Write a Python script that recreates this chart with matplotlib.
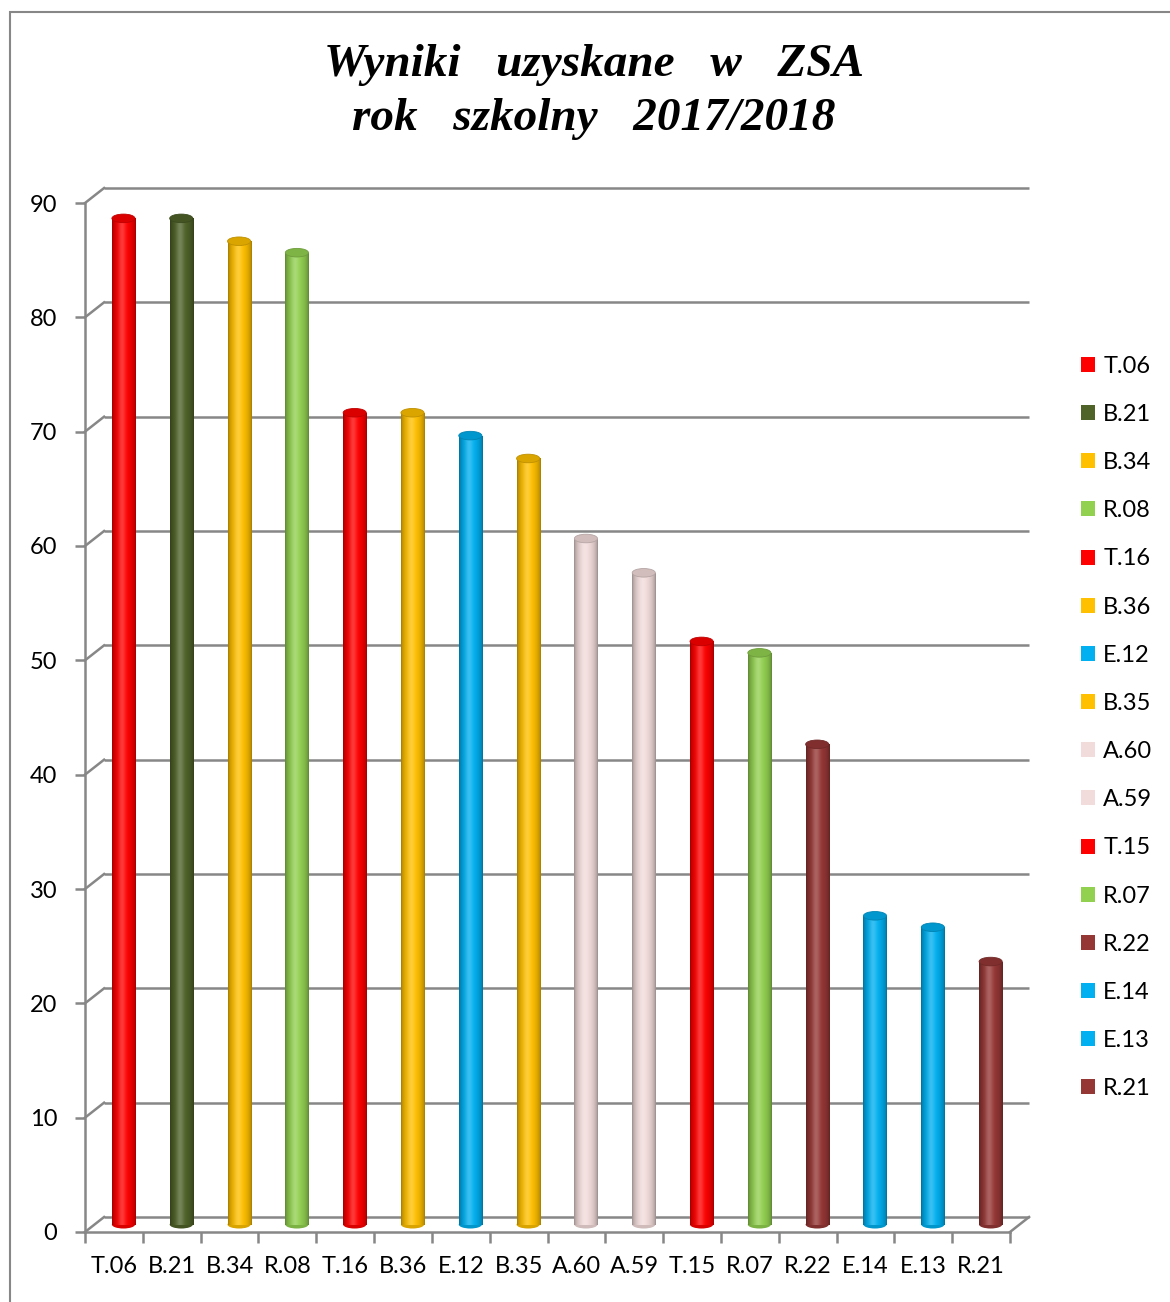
import numpy as np
import matplotlib
matplotlib.use("Agg")
import matplotlib.pyplot as plt
import matplotlib.transforms as mtransforms
from matplotlib.patches import Ellipse, Rectangle, Patch
from matplotlib.colors import to_rgb

# --- data -------------------------------------------------------------
categories = ["T.06", "B.21", "B.34", "R.08", "T.16", "B.36", "E.12", "B.35",
              "A.60", "A.59", "T.15", "R.07", "R.22", "E.14", "E.13", "R.21"]
scores = [88, 88, 86, 85, 71, 71, 69, 67, 60, 57, 51, 50, 42, 27, 26, 23]
bar_colors = ["#FF0000", "#4F6228", "#FFC000", "#92D050", "#FF0000", "#FFC000",
              "#00B0F0", "#FFC000", "#F2DCDB", "#F2DCDB", "#FF0000", "#92D050",
              "#953735", "#00B0F0", "#00B0F0", "#953735"]
y_ticks = list(range(0, 100, 10))
title_text = "Wyniki   uzyskane   w   ZSA\nrok   szkolny   2017/2018"

# --- style ------------------------------------------------------------
W, H, DPI = 1170, 1302, 100
GRID = "#878787"
LBL_FONT = ["Lato", "DejaVu Sans"]
FS = 17
BAR_W = 0.4
DEPTH_X, DEPTH_Y = 0.33, 1.31   # back-wall offset in data units

plt.rcParams["font.family"] = LBL_FONT

fig = plt.figure(figsize=(W / DPI, H / DPI), dpi=DPI)
ax = fig.add_axes([85 / W, 70 / H, 925 / W, 1029 / H])
ax.set_xlim(-0.5, len(categories) - 0.5)
ax.set_ylim(0, 90)

back = mtransforms.Affine2D().translate(DEPTH_X, DEPTH_Y) + ax.transData
mid = mtransforms.Affine2D().translate(DEPTH_X / 2, DEPTH_Y / 2) + ax.transData

# back wall gridlines plus the side-wall diagonals
x_lo, x_hi = -0.5, len(categories) - 0.5
for v in y_ticks:
    ax.plot([x_lo, x_hi], [v, v], color=GRID, lw=1.8, transform=back,
            clip_on=False, zorder=1, solid_capstyle="butt")
    ax.plot([x_lo, x_lo + DEPTH_X], [v, v + DEPTH_Y], color=GRID, lw=1.8,
            clip_on=False, zorder=1)
# right edge of the floor
ax.plot([x_hi, x_hi + DEPTH_X], [0, DEPTH_Y], color=GRID, lw=1.8,
        clip_on=False, zorder=1)


def cylinder_strip(color, n=64):
    base = np.array(to_rgb(color))
    t = np.linspace(0, 1, n)
    body = 0.62 + 0.38 * np.sin(np.pi * t) ** 0.55
    glow = 0.22 * np.exp(-((t - 0.42) / 0.16) ** 2)
    rgb = base[None, :] * body[:, None] + (1 - base[None, :]) * glow[:, None]
    return np.clip(rgb, 0, 1)[None, :, :]


x = np.arange(len(categories))
bars = ax.bar(x, scores, width=BAR_W, color=bar_colors, transform=mid,
              zorder=3, linewidth=0)

for xi, v, c, b in zip(x, scores, bar_colors, bars):
    base = np.array(to_rgb(c))
    # rounded base of the cylinder
    ax.add_patch(Ellipse((xi, 0), BAR_W, 0.7, transform=mid,
                         facecolor=base * 0.85, edgecolor="none", zorder=2.9))
    # shaded body
    img = ax.imshow(cylinder_strip(c), extent=[xi - BAR_W / 2, xi + BAR_W / 2, 0, v],
                    transform=mid, aspect="auto", zorder=3.1,
                    interpolation="bilinear")
    img.set_clip_path(b)
    # top cap
    ax.add_patch(Ellipse((xi, v), BAR_W, 0.75, transform=mid,
                         facecolor=np.clip(base * 0.86, 0, 1),
                         edgecolor=np.clip(base * 0.75, 0, 1), lw=0.6, zorder=3.2))

ax.set_xlim(-0.5, len(categories) - 0.5)
ax.set_ylim(0, 90)

# axes and ticks
for s in ("top", "right"):
    ax.spines[s].set_visible(False)
for s in ("left", "bottom"):
    ax.spines[s].set_color(GRID)
    ax.spines[s].set_linewidth(1.8)
    ax.spines[s].set_zorder(1)

ax.set_yticks(y_ticks)
ax.set_yticklabels([str(v) for v in y_ticks])
ax.tick_params(axis="y", length=7, width=1.8, color=GRID, pad=13,
               labelsize=FS, labelcolor="black")
ax.set_xticks(x)
ax.set_xticklabels(categories)
ax.set_xticks(np.arange(-0.5, len(categories), 1), minor=True)
ax.tick_params(axis="x", which="major", length=0, pad=17, labelsize=FS,
               labelcolor="black")
ax.tick_params(axis="x", which="minor", length=8, width=1.8, color=GRID)
ax.set_facecolor("none")

# title
fig.text(594 / W, 1 - 92 / H, title_text, ha="center", va="center",
         family=["Liberation Serif", "DejaVu Serif"], style="italic",
         weight="bold", fontsize=34, linespacing=1.4)

# legend, one entry per category
handles = [Patch(facecolor=c, edgecolor="none") for c in bar_colors]
fig.legend(handles, categories, loc="center left",
           bbox_to_anchor=(1081 / W, 1 - 727.5 / H), frameon=False,
           fontsize=FS, handlelength=0.6, handleheight=0.6,
           handletextpad=0.34, labelspacing=1.15, borderpad=0,
           borderaxespad=0)

# outer chart frame
fig.add_artist(Rectangle((10 / W, -0.1), 2, 1 - 12 / H + 0.1,
                         transform=fig.transFigure, fill=False,
                         edgecolor=GRID, lw=1.5))

fig.savefig("out.png", dpi=DPI)
